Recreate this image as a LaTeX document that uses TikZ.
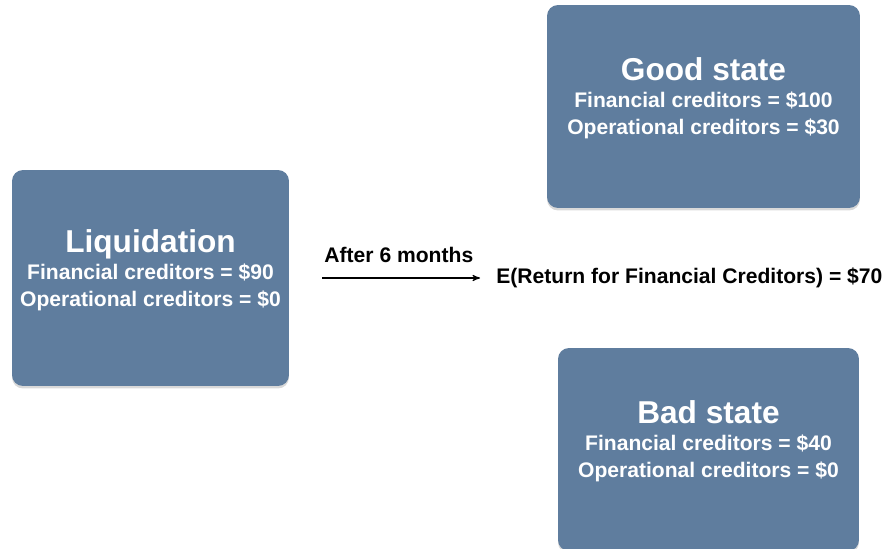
\documentclass[tikz,border=0pt]{standalone}
\usepackage{fontspec}
\setmainfont{Liberation Sans}
\usetikzlibrary{arrows,shadows}
\definecolor{stateblue}{RGB}{95,125,158}
\newcommand{\statetitle}[1]{{\fontsize{18}{15.3}\selectfont #1}}

\begin{document}
\begin{tikzpicture}[>=stealth',auto,x=0.02cm,y=0.02cm,
	font=\bfseries\fontsize{12}{15.3}\selectfont,
	box/.style={rectangle,rounded corners=0.22cm,fill=stateblue,text=white,align=center,text depth=11.6pt,
		drop shadow={shadow xshift=0pt,shadow yshift=-0.05cm,opacity=0.3}}]
\useasboundingbox (0,0) rectangle (886,548);

\node[box,minimum width=5.54cm,minimum height=4.32cm]	(liq)	at (150.5,270)	{\statetitle{Liquidation}\\Financial creditors = \$90\\Operational creditors = \$0};
 \node[box,minimum width=6.26cm,minimum height=4.06cm]	(good)	at (703.5,441.5)	{\statetitle{Good state}\\Financial creditors = \$100\\Operational creditors = \$30};
	\node[box,minimum width=6.02cm,minimum height=4.06cm]	(bad)	at (708.5,98.5)	{\statetitle{Bad state}\\Financial creditors = \$40\\Operational creditors = \$0};
	\node[inner sep=0pt,anchor=west]	(ret)	at (496,270)	{E(Return for Financial Creditors) = \$70};

	\path[->,line width=0.6pt,shorten <=0.66cm,shorten >=0.32cm] (liq)	edge	node[pos=0.53,above=5pt]{After 6 months}	(ret);
\end{tikzpicture}
\end{document}
